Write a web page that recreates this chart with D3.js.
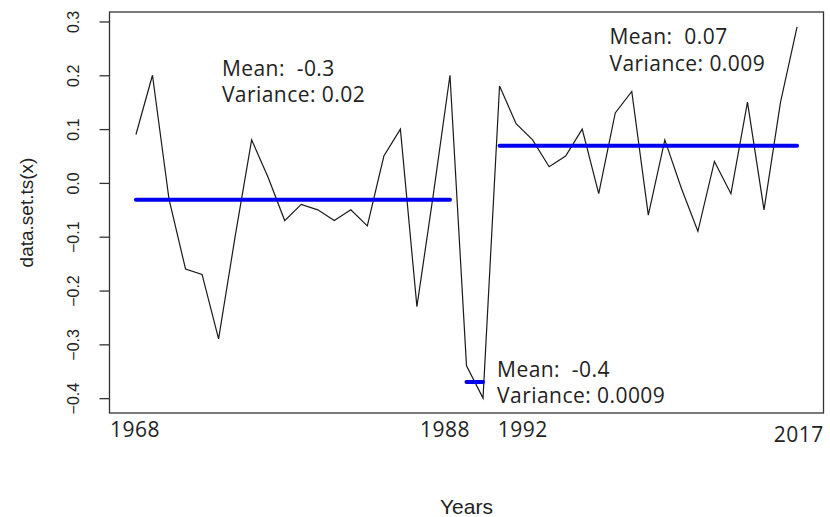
<!DOCTYPE html>
<html>
<head>
<meta charset="utf-8">
<script src="https://cdn.jsdelivr.net/npm/d3@7"></script>
<style>
  html, body { margin: 0; padding: 0; background: #fff; }
  svg { display: block; }
</style>
</head>
<body>
<svg id="chart" width="830" height="517"></svg>
<script>
// ---- data ----
const values = [0.09, 0.20, -0.03, -0.16, -0.17, -0.29, -0.10, 0.08, 0.01, -0.07,
                -0.04, -0.05, -0.07, -0.05, -0.08, 0.05, 0.10, -0.23, -0.02, 0.20,
                -0.34, -0.40,
                0.18, 0.11, 0.08, 0.03, 0.05, 0.10, -0.02, 0.13, 0.17, -0.06,
                0.08, -0.01, -0.09, 0.04, -0.02, 0.15, -0.05, 0.15, 0.29];
const segStart = [0, 20, 22];
const segEnd = [19, 21, 40];
const yTicks = [-0.4, -0.3, -0.2, -0.1, 0.0, 0.1, 0.2, 0.3];
const xLabels = ["1968", "1988", "1992", "2017"];
const xLabelAt = [-0.05, 18.7, 23.4, 40.1];
const meanLabels = ["Mean:  -0.3", "Mean:  -0.4", "Mean:  0.07"];
const varLabels = ["Variance: 0.02", "Variance: 0.0009", "Variance: 0.009"];
const labelAtX = [5.2, 21.85, 28.65];
const labelAtY = [0.199, -0.36, 0.258];
const yTitle = "data.set.ts(x)";
const xTitle = "Years";

// ---- layout ----
const plot = { left: 109.5, right: 823.5, top: 12, bottom: 413 };
const svg = d3.select("#chart");

const n = values.length;
const xPad = (n - 1) * 0.04;
const x = d3.scaleLinear().domain([-xPad, n - 1 + xPad]).range([plot.left, plot.right]);
const ext = d3.extent(values);
const yPad = (ext[1] - ext[0]) * 0.04;
const y = d3.scaleLinear().domain([ext[0] - yPad, ext[1] + yPad]).range([plot.bottom, plot.top]);

// series line
const line = d3.line().x((d, i) => x(i)).y(d => y(d));
svg.append("path")
  .datum(values)
  .attr("d", line)
  .attr("fill", "none")
  .attr("stroke", "#1a1a1a")
  .attr("stroke-width", 1.2)
  .attr("stroke-linejoin", "miter");

// segment means
const segs = segStart.map((s, k) => ({ s, e: segEnd[k], m: d3.mean(values.slice(s, segEnd[k] + 1)) }));
svg.append("g").selectAll("line").data(segs).join("line")
  .attr("x1", d => x(d.s)).attr("x2", d => x(d.e))
  .attr("y1", d => y(d.m)).attr("y2", d => y(d.m))
  .attr("stroke", "#0000ee")
  .attr("stroke-width", 4)
  .attr("stroke-linecap", "round");

// box
svg.append("rect")
  .attr("x", plot.left).attr("y", plot.top)
  .attr("width", plot.right - plot.left).attr("height", plot.bottom - plot.top)
  .attr("fill", "none").attr("stroke", "#333").attr("stroke-width", 1.3);

// y axis
const yAxis = d3.axisLeft(y).tickValues(yTicks).tickSize(10).tickPadding(0).tickFormat(d3.format(".1f"));
const gy = svg.append("g").attr("transform", `translate(${plot.left},0)`).call(yAxis);
gy.select(".domain").remove();
gy.selectAll(".tick line").attr("stroke", "#333").attr("stroke-width", 1.3);
gy.selectAll(".tick text")
  .attr("transform", "rotate(-90)")
  .attr("x", 0).attr("y", -31).attr("dy", 0)
  .attr("text-anchor", "middle")
  .attr("fill", "#222")
  .style("font-family", "'Liberation Sans', Arial, sans-serif")
  .style("font-size", "16px");

// y title
svg.append("text")
  .attr("transform", `translate(33,${(plot.top + plot.bottom) / 2}) rotate(-90)`)
  .attr("text-anchor", "middle")
  .attr("fill", "#222")
  .style("font-family", "'Liberation Sans', Arial, sans-serif")
  .style("font-size", "19px")
  .text(yTitle);

// x labels
svg.append("g").selectAll("text").data(xLabels).join("text")
  .attr("x", (d, i) => x(xLabelAt[i]))
  .attr("y", (d, i) => i === xLabels.length - 1 ? 442 : 437)
  .attr("text-anchor", "middle")
  .attr("fill", "#222")
  .style("font-family", "'Open Sans', sans-serif")
  .style("font-size", "21px")
  .style("letter-spacing", "0.5px")
  .text(d => d);

// x title
svg.append("text")
  .attr("x", (plot.left + plot.right) / 2)
  .attr("y", 514)
  .attr("text-anchor", "middle")
  .attr("fill", "#222")
  .style("font-family", "'Liberation Sans', Arial, sans-serif")
  .style("font-size", "21px")
  .text(xTitle);

// annotations
const ann = svg.append("g").selectAll("text").data(meanLabels).join("text")
  .attr("x", (d, i) => x(labelAtX[i]))
  .attr("y", (d, i) => y(labelAtY[i]))
  .attr("fill", "#222")
  .style("font-family", "'Open Sans', sans-serif")
  .style("font-size", "21px")
  .style("letter-spacing", "0.45px")
  .style("white-space", "pre")
  .attr("xml:space", "preserve");
ann.append("tspan").text(d => d);
ann.append("tspan")
  .attr("x", (d, i) => x(labelAtX[i]))
  .attr("dy", 26.5)
  .text((d, i) => varLabels[i]);
</script>
</body>
</html>
